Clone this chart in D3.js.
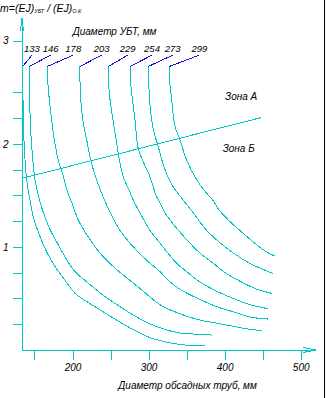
<!DOCTYPE html>
<html>
<head>
<meta charset="utf-8">
<script src="https://cdn.jsdelivr.net/npm/d3@7"></script>
<style>
  html, body { margin: 0; padding: 0; background: #fff; }
  svg { display: block; }
  text { font-family: "Liberation Sans", Arial, sans-serif; font-style: italic; fill: #000; }
  .crisp line, .crisp path { shape-rendering: crispEdges; }
</style>
</head>
<body>
<svg id="chart" width="326" height="398"></svg>
<script>
// Drill-collar diameters (mm) — one curve per collar size
const collarDiameters = [133, 146, 178, 203, 229, 254, 273, 299];

// Stiffness ratio m versus casing diameter (mm) for each collar size
const curve133 = [[134.5,2.75],[134.5,2.62],[135.3,2.30],[136.6,1.97],[139.8,1.65],[143.2,1.49],[148.5,1.29],[157.3,1.10],[166.1,0.95],[177.0,0.81],[187.9,0.70],[203.3,0.55],[223.0,0.45],[240.5,0.37],[262.4,0.27],[284.4,0.18],[301.9,0.12],[321.6,0.08],[345.6,0.05],[374.2,0.04]];
const curve146 = [[143.2,2.75],[143.2,2.62],[144.1,2.30],[146.4,1.97],[150.7,1.65],[156.3,1.46],[163.8,1.29],[170.4,1.17],[183.6,0.99],[201.0,0.78],[218.7,0.66],[240.5,0.53],[262.4,0.42],[284.4,0.32],[306.2,0.24],[337.0,0.17],[359.2,0.155],[383.0,0.145]];
const curve178 = [[166.9,2.75],[167.3,2.62],[169.5,2.43],[172.6,2.23],[176.1,2.04],[181.3,1.84],[186.2,1.73],[192.8,1.55],[200.0,1.41],[207.6,1.26],[218.7,1.12],[236.1,0.94],[253.6,0.81],[271.2,0.70],[293.1,0.57],[305.8,0.49],[319.4,0.42],[345.6,0.34],[367.6,0.29],[389.6,0.26],[411.4,0.23],[433.3,0.20],[448.7,0.19]];
const curve203 = [[209.8,2.75],[209.8,2.62],[210.8,2.43],[214.2,2.20],[219.4,2.01],[224.3,1.83],[231.8,1.65],[241.0,1.47],[250.6,1.32],[262.4,1.16],[279.9,1.00],[297.5,0.87],[315.0,0.76],[328.2,0.66],[345.6,0.57],[367.6,0.49],[389.6,0.42],[411.4,0.37],[433.3,0.32],[457.4,0.30]];
const curve229 = [[247.1,2.75],[247.3,2.62],[249.3,2.43],[253.6,2.21],[257.8,2.02],[260.5,1.89],[266.8,1.68],[275.6,1.53],[280.8,1.44],[288.7,1.33],[301.9,1.16],[312.4,1.06],[325.5,0.94],[337.0,0.84],[350.1,0.76],[367.6,0.66],[389.6,0.57],[411.4,0.50],[433.3,0.44],[457.4,0.40]];
const curve254 = [[275.6,2.75],[276.0,2.62],[277.8,2.49],[282.2,2.23],[286.5,1.95],[294.0,1.81],[301.9,1.68],[309.8,1.50],[316.3,1.41],[321.6,1.33],[334.7,1.20],[350.1,1.07],[367.6,0.94],[385.1,0.84],[402.7,0.74],[424.6,0.65],[442.2,0.59],[461.9,0.55]];
const curve273 = [[299.6,2.75],[300.2,2.62],[301.2,2.43],[304.1,2.23],[307.8,2.09],[312.1,1.99],[317.6,1.84],[324.2,1.70],[333.4,1.57],[343.9,1.47],[358.7,1.33],[376.4,1.16],[393.9,1.04],[411.4,0.94],[433.3,0.84],[451.1,0.78],[464.0,0.74]];
const curve299 = [[327.2,2.75],[327.6,2.62],[330.4,2.43],[334.7,2.17],[341.3,2.04],[350.1,1.84],[363.3,1.65],[376.4,1.52],[384.7,1.45],[392.6,1.36],[404.9,1.26],[424.6,1.13],[442.2,1.02],[455.4,0.95],[466.2,0.91]];
const curves = [curve133, curve146, curve178, curve203, curve229, curve254, curve273, curve299];

// Callout anchors for the collar labels (casing-diameter units)
const calloutAt = [146.7, 171.3, 201.0, 238.4, 272.6, 304.5, 331.7, 366.7];
const calloutLevel = 2.86;

// Boundary between zone A and zone B
const zoneBoundary = [[133.6, 1.665], [447.8, 2.254]];
const zoneLabels = [["Зона А", 400.5, 2.42], ["Зона Б", 397.4, 1.92]];

// Axis ticks
const xTicks = [150, 200, 250, 300, 350, 400, 450, 500];
const xTickLabels = [200, 300, 400, 500];
const yTicks = [0.25, 0.5, 0.75, 1, 1.25, 1.5, 1.75, 2, 2.25, 2.5, 3];
const yTickLabels = [1, 2, 3];

const CYAN = "#00c8c8";
const BLUE = "#1414d2";

const svg = d3.select("#chart").attr("class", "crisp");
const x = d3.scaleLinear().domain([133.6, 500]).range([22, 300.7]);
const y = d3.scaleLinear().domain([0, 3]).range([350, 40.7]);

// frame edge on the right
svg.append("line").attr("x1", 324.5).attr("x2", 324.5).attr("y1", 0).attr("y2", 398)
  .attr("stroke", "#000").attr("stroke-width", 1);

// Y axis
const yAxis = d3.axisLeft(y).tickValues(yTicks).tickSize(9).tickPadding(4.5)
  .tickFormat(d => yTickLabels.includes(d) ? d3.format("d")(d) : "");
const gy = svg.append("g").attr("transform", "translate(22,0)").call(yAxis);
gy.select(".domain").remove();
gy.selectAll(".tick line").attr("stroke", CYAN);
gy.selectAll(".tick text").attr("font-size", 10).attr("font-family", "Liberation Sans").attr("font-style", "italic");

// X axis
const xAxis = d3.axisBottom(x).tickValues(xTicks).tickSize(10).tickPadding(3.5)
  .tickFormat(d => xTickLabels.includes(d) ? d3.format("d")(d) : "");
const gx = svg.append("g").attr("transform", "translate(0,350)").call(xAxis);
gx.select(".domain").remove();
gx.selectAll(".tick line").attr("stroke", CYAN);
gx.selectAll(".tick text").attr("font-size", 10).attr("font-family", "Liberation Sans").attr("font-style", "italic");

// axis lines with arrow tips
const axes = svg.append("g").attr("fill", "none").attr("stroke", CYAN).attr("stroke-width", 1);
axes.append("line").attr("x1", 22).attr("x2", 22).attr("y1", 18).attr("y2", 350.5);
axes.append("path").attr("d", "M20.5,31 L22,18 L23.5,31");
axes.append("line").attr("x1", 21.5).attr("x2", 316).attr("y1", 350).attr("y2", 350);
axes.append("path").attr("d", "M303,347.5 L316,350 L303,352.5");

// curves
const line = d3.line().x(d => x(d[0])).y(d => y(d[1])).curve(d3.curveCatmullRom.alpha(0.5));
svg.append("g").selectAll("path").data(curves).join("path")
  .attr("d", line).attr("fill", "none").attr("stroke", CYAN).attr("stroke-width", 1);

// zone boundary
svg.append("path").datum(zoneBoundary).attr("d", d3.line().x(d => x(d[0])).y(d => y(d[1])))
  .attr("fill", "none").attr("stroke", CYAN).attr("stroke-width", 1);

// callouts: leader from curve top to label
const callouts = svg.append("g");
curves.forEach((c, i) => {
  const top = c[0];
  callouts.append("line")
    .attr("x1", x(top[0])).attr("y1", y(top[1]))
    .attr("x2", x(calloutAt[i])).attr("y2", y(calloutLevel))
    .attr("stroke", BLUE).attr("stroke-width", 1);
  callouts.append("text")
    .attr("x", x(calloutAt[i])).attr("y", y(calloutLevel) - 3)
    .attr("text-anchor", "middle").attr("font-size", 9.5)
    .text(collarDiameters[i]);
});

// zone labels
svg.append("g").selectAll("text").data(zoneLabels).join("text")
  .attr("x", d => x(d[1])).attr("y", d => y(d[2]))
  .attr("font-size", 10).text(d => d[0]);

// titles
svg.append("text").attr("x", 72.7).attr("y", 34.5).attr("font-size", 10).text("Диаметр УБТ, мм");
svg.append("text").attr("x", 118.3).attr("y", 389).attr("font-size", 10).text("Диаметр обсадных труб, мм");

// y-axis quantity: m = (EJ)_УБТ / (EJ)_О.К
const yl = svg.append("text").attr("x", 0).attr("y", 11.5).attr("font-size", 10.5);
yl.append("tspan").text("m=(EJ)");
yl.append("tspan").attr("font-size", 5.5).attr("dy", 1.5).text("УБТ");
yl.append("tspan").attr("dy", -1.5).text(" / (EJ)");
yl.append("tspan").attr("font-size", 5.5).attr("dy", 1.5).text("О.К");
</script>
</body>
</html>
